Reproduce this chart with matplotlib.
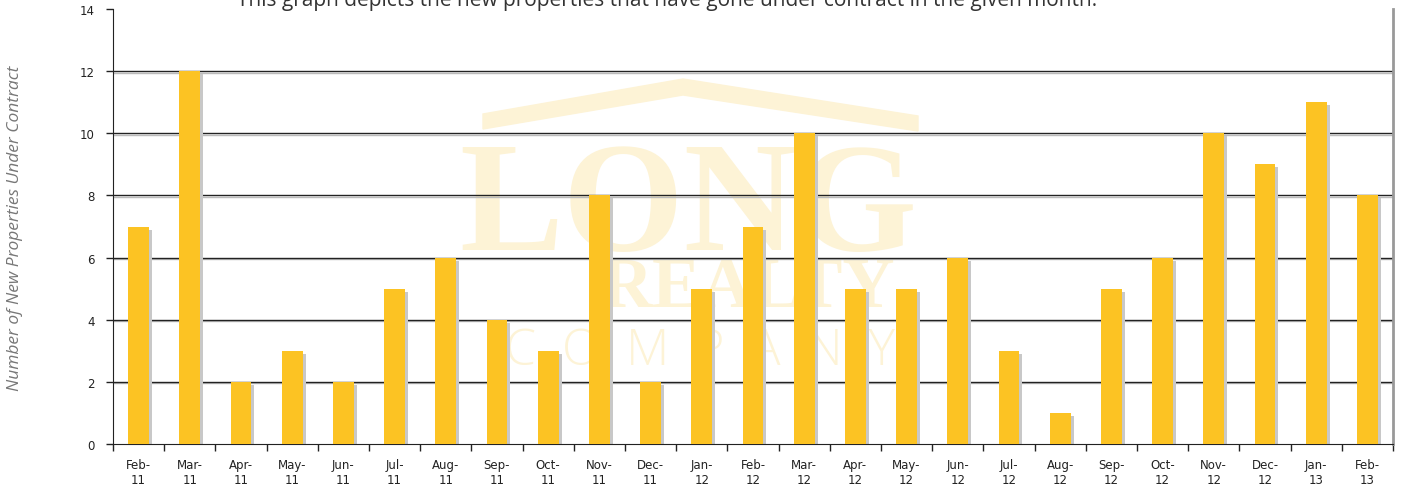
import matplotlib
matplotlib.use("Agg")
import matplotlib.pyplot as plt
import matplotlib.patheffects as pe
from matplotlib.transforms import offset_copy
from matplotlib.patches import Polygon

months = ["Feb-\n11", "Mar-\n11", "Apr-\n11", "May-\n11", "Jun-\n11", "Jul-\n11",
          "Aug-\n11", "Sep-\n11", "Oct-\n11", "Nov-\n11", "Dec-\n11", "Jan-\n12",
          "Feb-\n12", "Mar-\n12", "Apr-\n12", "May-\n12", "Jun-\n12", "Jul-\n12",
          "Aug-\n12", "Sep-\n12", "Oct-\n12", "Nov-\n12", "Dec-\n12", "Jan-\n13",
          "Feb-\n13"]
contracts = [7, 12, 2, 3, 2, 5, 6, 4, 3, 8, 2, 5, 7, 10, 5, 5, 6, 3, 1, 5, 6, 10, 9, 11, 8]
yticks = [0, 2, 4, 6, 8, 10, 12, 14]

BAR = "#fcc323"
SHADOW = "#c8c8c8"
WM = "#fdf3d6"

fig = plt.figure(figsize=(14.02, 4.89), dpi=100)
ax = fig.add_axes([113 / 1402, 1 - 445 / 489, 1280 / 1402, 435 / 489])
ax.set_facecolor("none")

x = list(range(len(contracts)))

# watermark (logo), drawn below the axes
roof = Polygon([(483 / 1402, 1 - 115 / 489), (683 / 1402, 1 - 80 / 489),
                (918 / 1402, 1 - 117 / 489), (918 / 1402, 1 - 132 / 489),
                (683 / 1402, 1 - 96 / 489), (483 / 1402, 1 - 130 / 489)],
               closed=True, transform=fig.transFigure, color=WM, zorder=-2)
fig.patches.append(roof)
fig.text(688 / 1402, 1 - 250 / 489, "LONG", fontsize=112, family="Liberation Serif",
         weight="bold", color=WM, ha="center", va="baseline", zorder=-1)
fig.text(748 / 1402, 1 - 307 / 489, "REALTY", fontsize=52, family="Liberation Serif",
         weight="bold", color=WM, ha="center", va="baseline", zorder=-1)
fig.text(700 / 1402, 1 - 365 / 489, "C  O  M  P  A  N  Y", fontsize=36,
         family="Open Sans", weight="light", color=WM, ha="center", va="baseline",
         zorder=-1)

# grid
for y in yticks[1:-1]:
    ax.axhline(y, color="#222222", lw=1, zorder=1,
               path_effects=[pe.SimpleLineShadow(offset=(0, -1), shadow_color="#bbbbbb", alpha=1),
                             pe.Normal()])

shadow_tr = offset_copy(ax.transData, fig=fig, x=3, y=-3, units="dots")
ax.bar(x, contracts, width=0.41, color=SHADOW, transform=shadow_tr, zorder=2)
ax.bar(x, contracts, width=0.41, color=BAR, zorder=3)

ax.set_xlim(-0.5, len(contracts) - 0.5)
ax.set_ylim(0, 14)
ax.set_yticks(yticks)
ax.set_xticks(x)
ax.set_xticklabels(months, fontsize=8.5, color="#222222", linespacing=1.2)
ax.set_xticks([i + 0.5 for i in range(-1, len(contracts))], minor=True)
ax.tick_params(axis="x", which="major", length=0, pad=10)
ax.tick_params(axis="x", which="minor", length=5, width=1, direction="out", color="#222222")
ax.tick_params(axis="y", length=5, width=1, direction="out", pad=8, labelsize=8.5,
               labelcolor="#222222", color="#222222")

ax.spines["top"].set_visible(False)
ax.spines["right"].set_color("#999999")
ax.spines["right"].set_linewidth(2)
ax.spines["left"].set_color("#222222")
ax.spines["bottom"].set_color("#222222")

fig.text(15 / 1402, 1 - 228 / 489, "Number of New Properties Under Contract",
         rotation=90, ha="center", va="center", fontsize=12.5, style="italic",
         color="#777777", family="Open Sans")
fig.text(667 / 1402, 1 - 6 / 489,
         "This graph depicts the new properties that have gone under contract in the given month.",
         ha="center", va="baseline", fontsize=15, color="#333333", family="Open Sans")

fig.savefig("out.png", dpi=100)
